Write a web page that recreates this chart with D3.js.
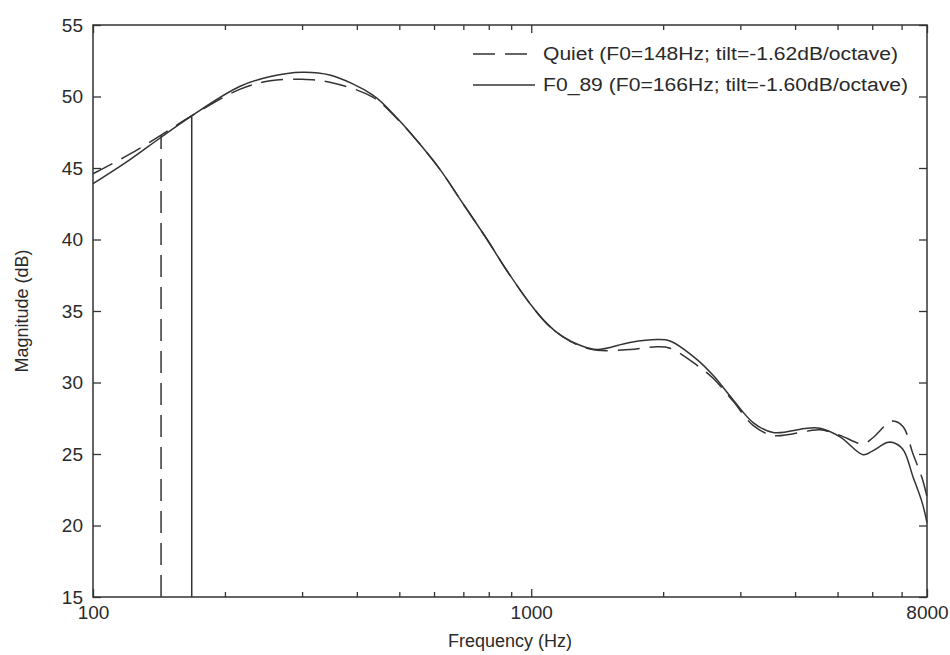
<!DOCTYPE html>
<html>
<head>
<meta charset="utf-8">
<script src="https://cdn.jsdelivr.net/npm/d3@7"></script>
<style>
  html, body { margin: 0; padding: 0; background: #fff; }
  svg text { font-family: "Liberation Sans", Arial, sans-serif; fill: #2a2a2a; }
</style>
</head>
<body>
<svg id="chart" width="950" height="655"></svg>
<script>
// ---- data ----
const freqs = [100, 121, 143, 167, 216, 254, 300, 347, 435, 494, 549, 619, 699, 793, 881, 1000, 1087, 1180, 1292, 1413, 1680, 1937, 2074, 2390, 2600, 2887, 3208, 3563, 4260, 4561, 5067, 5719, 6000, 6486, 6693, 7058, 7434, 7799, 8000];
const quietDb = [44.6, 45.95, 47.3, 48.6, 50.5, 51.1, 51.2, 51.0, 49.95, 48.45, 46.9, 44.9, 42.5, 40.0, 37.8, 35.4, 34.1, 33.2, 32.55, 32.25, 32.3, 32.5, 32.4, 31.2, 30.3, 28.7, 27.0, 26.3, 26.6, 26.7, 26.3, 25.7, 26.1, 27.1, 27.3, 26.9, 25.0, 23.3, 22.0];
const f089Db = [43.9, 45.55, 47.15, 48.6, 50.7, 51.4, 51.7, 51.5, 50.1, 48.5, 46.9, 44.9, 42.5, 40.0, 37.8, 35.4, 34.1, 33.2, 32.6, 32.3, 32.8, 33.0, 32.9, 31.6, 30.5, 28.8, 27.2, 26.5, 26.8, 26.8, 26.2, 24.95, 25.2, 25.8, 25.8, 25.3, 23.4, 21.6, 20.2];
const seriesNames = ["Quiet (F0=148Hz; tilt=-1.62dB/octave)", "F0_89 (F0=166Hz; tilt=-1.60dB/octave)"];
const f0Freqs = [143, 168];      // vertical marker positions (Hz)
const f0Tops = [47.3, 48.6];     // marker heights (dB)
const xMajorTicks = [100, 1000, 8000];
const xMinorTicks = [200, 300, 400, 500, 600, 700, 800, 900, 2000, 3000, 4000, 5000, 6000, 7000];
const yTicks = [15, 20, 25, 30, 35, 40, 45, 50, 55];
const xLabel = "Frequency (Hz)";
const yLabel = "Magnitude (dB)";

// ---- layout ----
const L = 93, R = 927, T = 25, B = 597;
const svg = d3.select("#chart");
const x = d3.scaleLog().domain([100, 8000]).range([L, R]);
const y = d3.scaleLinear().domain([15, 55]).range([B, T]);
const ink = "#333";
const dash = "22,10";

// axes
function styleAxis(g) {
  g.select(".domain").remove();
  g.selectAll("line").attr("stroke", ink).attr("stroke-width", 1.3);
  g.selectAll("text").attr("font-size", 19).style("fill", "#2a2a2a");
}
svg.append("g").attr("transform", `translate(0,${B})`)
  .call(d3.axisBottom(x).tickValues(xMajorTicks).tickFormat(d3.format("d")).tickSize(-8).tickPadding(9)).call(styleAxis);
svg.append("g").attr("transform", `translate(0,${B})`)
  .call(d3.axisBottom(x).tickValues(xMinorTicks).tickFormat("").tickSize(-5)).call(styleAxis);
svg.append("g").attr("transform", `translate(0,${T})`)
  .call(d3.axisTop(x).tickValues(xMajorTicks).tickFormat("").tickSize(-8)).call(styleAxis);
svg.append("g").attr("transform", `translate(0,${T})`)
  .call(d3.axisTop(x).tickValues(xMinorTicks).tickFormat("").tickSize(-5)).call(styleAxis);
svg.append("g").attr("transform", `translate(${L},0)`)
  .call(d3.axisLeft(y).tickValues(yTicks).tickFormat(d3.format("d")).tickSize(-8).tickPadding(10)).call(styleAxis);
svg.append("g").attr("transform", `translate(${R},0)`)
  .call(d3.axisRight(y).tickValues(yTicks).tickFormat("").tickSize(-8)).call(styleAxis);

// frame
svg.append("rect").attr("x", L).attr("y", T).attr("width", R - L).attr("height", B - T)
  .attr("fill", "none").attr("stroke", ink).attr("stroke-width", 1.5);

// curves
const line = d3.line().x(d => x(d[0])).y(d => y(d[1])).curve(d3.curveCatmullRom.alpha(0.5));
const series = [
  { vals: quietDb, dash: dash },
  { vals: f089Db, dash: null }
];
series.forEach(s => {
  svg.append("path").datum(freqs.map((f, i) => [f, s.vals[i]]))
    .attr("d", line).attr("fill", "none").attr("stroke", ink).attr("stroke-width", 1.5)
    .attr("stroke-dasharray", s.dash);
});

// F0 markers
f0Freqs.forEach((f, i) => {
  svg.append("line").attr("x1", x(f)).attr("x2", x(f)).attr("y1", y(15)).attr("y2", y(f0Tops[i]))
    .attr("stroke", ink).attr("stroke-width", 1.5).attr("stroke-dasharray", series[i].dash);
});

// legend
const legY = [54, 85];
seriesNames.forEach((name, i) => {
  svg.append("line").attr("x1", 473).attr("x2", 535).attr("y1", legY[i]).attr("y2", legY[i])
    .attr("stroke", ink).attr("stroke-width", 1.5).attr("stroke-dasharray", i === 0 ? "22,10" : null);
  svg.append("text").attr("x", 543).attr("y", legY[i] + 6).attr("font-size", 18)
    .attr("textLength", i === 0 ? 355 : 365).attr("lengthAdjust", "spacingAndGlyphs").text(name);
});

// axis labels
svg.append("text").attr("x", (L + R) / 2).attr("y", 647).attr("text-anchor", "middle")
  .attr("font-size", 18).text(xLabel);
svg.append("text").attr("transform", `translate(28,${(T + B) / 2}) rotate(-90)`)
  .attr("text-anchor", "middle").attr("font-size", 18).text(yLabel);
</script>
</body>
</html>
